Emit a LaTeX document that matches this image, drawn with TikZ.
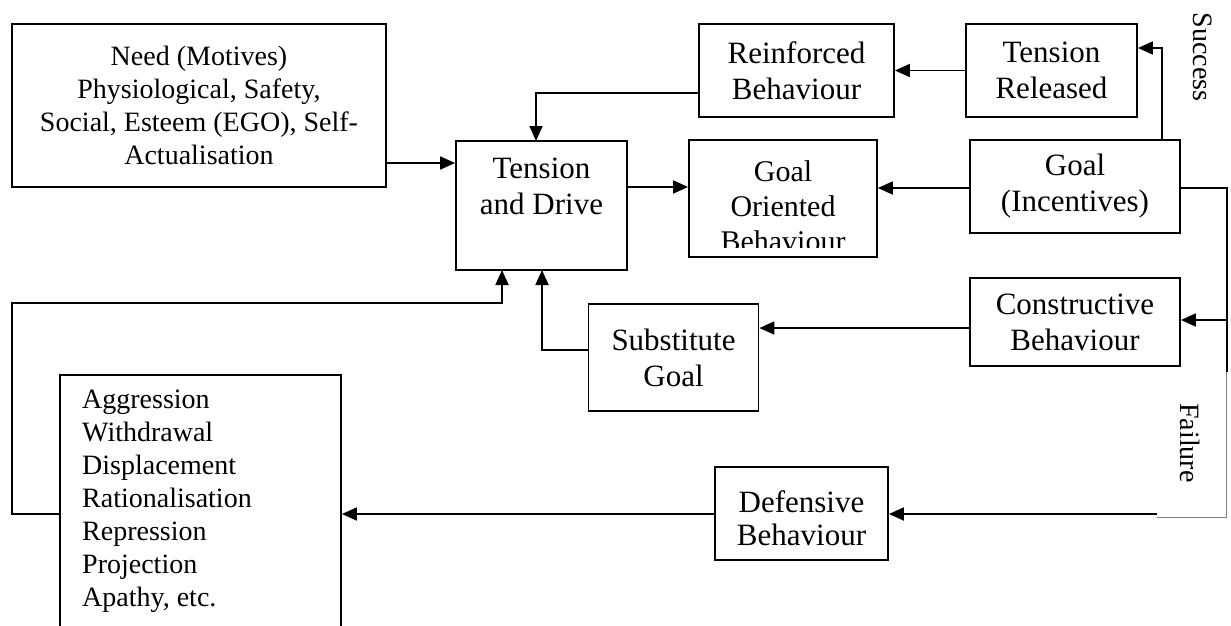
\documentclass[tikz,border=0pt]{standalone}
\usepackage{fontspec}
\setmainfont{Liberation Serif}
\usetikzlibrary{arrows.meta}
\begin{document}
\begin{tikzpicture}[x=1pt,y=-1pt,
  box/.style={draw, line width=1.8pt, rectangle, inner sep=2pt, align=center, font=\fontsize{31}{36}\selectfont},
  small/.style={font=\fontsize{28}{33}\selectfont},
  conn/.style={line width=1.8pt},
  arr/.style={conn, -{Triangle[length=15pt,width=13pt]}},
  lbl/.style={inner sep=0pt, font=\fontsize{28}{33}\selectfont}]
\useasboundingbox (0,0) rectangle (1231,626);
\clip (0,0) rectangle (1231,626);
% boxes
\node[box, small, minimum width=374pt, minimum height=163pt] (need) at (199,105.5)
  {Need (Motives)\\Physiological, Safety,\\Social, Esteem (EGO), Self-\\Actualisation};
\node[box, minimum width=171pt, minimum height=129pt] (ten) at (541.5,205.5) {};
\node[lbl, anchor=north, align=center, font=\fontsize{31}{36}\selectfont] (tentext) at (541.5,158) {Tension\\and Drive};
\node[box, minimum width=195pt, minimum height=93pt] (reinf) at (796.5,70.5) {Reinforced\\Behaviour};
\node[box, minimum width=171pt, minimum height=93pt] (trel) at (1051.5,70.5) {Tension\\Released};
\node[box, minimum width=188pt, minimum height=117pt] (gob) at (783,198.5) {};
\begin{scope}
  \clip (690,141) rectangle (876,247);
  \node[lbl, anchor=north, align=center, font=\fontsize{30}{35}\selectfont] (gobtext) at (783,160) {Goal\\Oriented\\Behaviour};
\end{scope}
\node[box, minimum width=210pt, minimum height=93pt] (goal) at (1075,186.5) {Goal\\(Incentives)};
\node[box, minimum width=210pt, minimum height=88pt] (cons) at (1075,322) {Constructive\\Behaviour};
\node[box, minimum width=170pt, minimum height=107pt] (subs) at (673.5,357.5) {Substitute\\Goal};
\node[box, minimum width=173pt, minimum height=93pt] (def) at (801.5,513.5) {};
\node[lbl, align=center, font=\fontsize{31}{33}\selectfont] (deftext) at (801.5,518) {Defensive\\Behaviour};
\node[box, minimum width=281pt, minimum height=325pt] (aggr) at (200.5,537.5) {};
\node[lbl, anchor=north west, align=left] (aggrtext) at (82,390)
  {Aggression\\Withdrawal\\Displacement\\Rationalisation\\Repression\\Projection\\Apathy, etc.};
% connectors
\coordinate (n1) at (386,163);
\draw[arr] (n1) -- (n1 -| ten.west);
\coordinate (t1) at (627,187);
\draw[arr] (t1) -- (t1 -| gob.west);
\coordinate (g0) at (970,188);
\draw[arr] (g0) -- (g0 -| gob.east);
\coordinate (g1) at (1162,140);
\coordinate (g2) at (1162,48);
\draw[arr] (g1) -- (g2) -- (g2 -| trel.east);
\draw[arr] (trel.west) -- (trel.west -| reinf.east);
\coordinate (r1) at (699,93);
\coordinate (r2) at (536,141);
\draw[arr] (r1) -| (r2);
\coordinate (g3) at (1180,188);
\coordinate (g5) at (1227,514);
\draw[arr] (g3) -| (g5) -- (g5 -| def.east);
\coordinate (g6) at (1227,320);
\draw[arr] (g6) -- (g6 -| cons.east);
\coordinate (c1) at (970,328);
\draw[arr] (c1) -- (c1 -| subs.east);
\coordinate (s1) at (588,350);
\coordinate (s2) at (542,270);
\draw[arr] (s1) -| (s2);
\coordinate (d1) at (715,514);
\draw[arr] (d1) -- (d1 -| aggr.east);
\coordinate (a1) at (60,514);
\coordinate (a2) at (12,303);
\coordinate (a3) at (502,270);
\draw[arr] (a1) -| (a2) -| (a3);
% failure label box
\fill[white] (1157,372) rectangle (1229,518);
\draw[gray, line width=0.7pt] (1157,517) -- (1226,517) -- (1226,372);
\node[lbl, rotate=-90] (failure) at (1190,443) {Failure};
\node[lbl, rotate=-90] (success) at (1203,57) {Success};
\end{tikzpicture}
\end{document}
